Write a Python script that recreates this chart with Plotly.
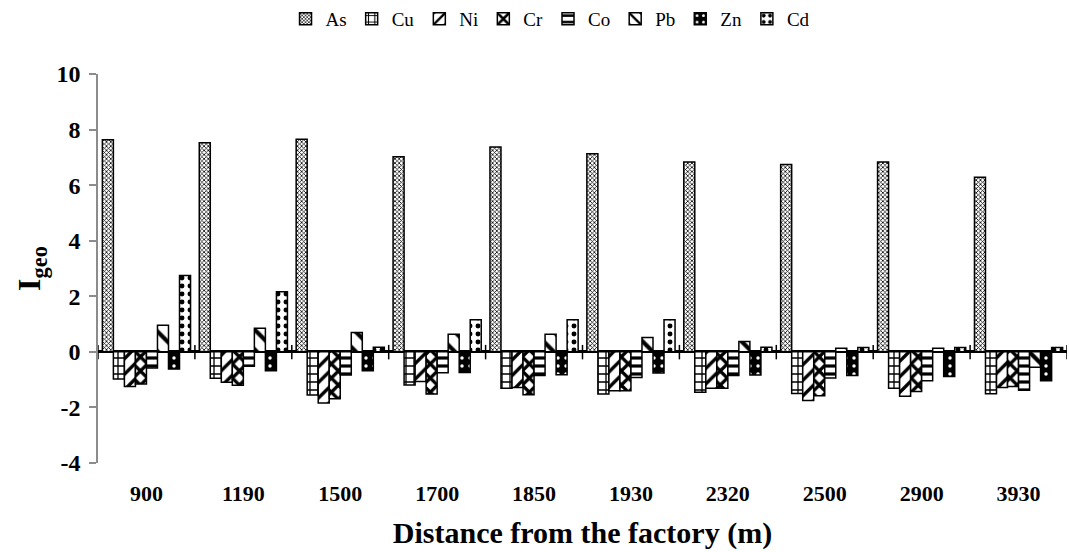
import plotly.graph_objects as go

# Distance of each sampling site from the factory (m)
distances = ["900", "1190", "1500", "1700", "1850", "1930", "2320", "2500", "2900", "3930"]

# Geo-accumulation index (Igeo) per element at each site
As = [7.63, 7.53, 7.65, 7.02, 7.37, 7.13, 6.83, 6.74, 6.83, 6.28]
Cu = [-0.98, -0.95, -1.55, -1.19, -1.31, -1.52, -1.45, -1.50, -1.31, -1.51]
Ni = [-1.25, -1.09, -1.84, -1.07, -1.28, -1.40, -1.31, -1.75, -1.60, -1.28]
Cr = [-1.16, -1.20, -1.69, -1.52, -1.54, -1.40, -1.31, -1.58, -1.43, -1.25]
Co = [-0.58, -0.52, -0.83, -0.75, -0.85, -0.92, -0.85, -0.94, -1.04, -1.38]
Pb = [0.96, 0.85, 0.70, 0.63, 0.63, 0.52, 0.37, 0.13, 0.13, -0.55]
Zn = [-0.62, -0.68, -0.68, -0.74, -0.82, -0.76, -0.83, -0.85, -0.89, -1.04]
Cd = [2.75, 2.16, 0.17, 1.16, 1.16, 1.16, 0.17, 0.16, 0.16, 0.16]

# Y-axis ticks, labelled with a plain hyphen for negatives
y_ticks = [-4, -2, 0, 2, 4, 6, 8, 10]
y_tick_labels = ["-4", "-2", "0", "2", "4", "6", "8", "10"]

series = [
    ("As", As, dict(shape="x", size=3, solidity=0.45, fgcolor="black", bgcolor="white")),
    ("Cu", Cu, dict(shape="+", size=8, solidity=0.3, fgcolor="black", bgcolor="white")),
    ("Ni", Ni, dict(shape="/", size=11, solidity=0.3, fgcolor="black", bgcolor="white")),
    ("Cr", Cr, dict(shape="x", size=10, solidity=0.55, fgcolor="black", bgcolor="white")),
    ("Co", Co, dict(shape="-", size=8, solidity=0.4, fgcolor="black", bgcolor="white")),
    ("Pb", Pb, dict(shape="\\", size=14, solidity=0.3, fgcolor="black", bgcolor="white")),
    ("Zn", Zn, dict(shape=".", size=8, solidity=0.15, fgcolor="white", bgcolor="black")),
    ("Cd", Cd, dict(shape=".", size=8, solidity=0.3, fgcolor="black", bgcolor="white")),
]

FONT = "Liberation Serif"

fig = go.Figure()
for name, vals, pat in series:
    fig.add_trace(go.Bar(
        name=name, x=distances, y=vals,
        marker=dict(color="white", line=dict(color="black", width=1.5),
                    pattern=dict(fillmode="replace", **pat)),
    ))

# Category-boundary tick marks crossing the zero line
shapes = []
for i in range(len(distances) + 1):
    shapes.append(dict(type="line", xref="x", yref="y",
                       x0=i - 0.5, x1=i - 0.5, y0=-0.27, y1=0.25,
                       line=dict(color="black", width=1.5)))

fig.update_layout(
    width=1069, height=552,
    margin=dict(l=98, r=2, t=74, b=89),
    paper_bgcolor="white", plot_bgcolor="white",
    barmode="group", bargap=0.09, bargroupgap=0,
    font=dict(family=FONT, color="black"),
    shapes=shapes,
    legend=dict(orientation="h", x=0.515, xref="container", xanchor="center",
                y=1.0, yref="container", yanchor="top",
                font=dict(family=FONT, size=19, color="black"),
                itemwidth=30, tracegroupgap=0),
    xaxis=dict(showline=False, ticks="", showgrid=False, zeroline=False,
               tickfont=dict(family=FONT, size=22, weight="bold"),
               ticklabelstandoff=15,
               range=[-0.5, len(distances) - 0.5],
               title=dict(text="Distance from the factory (m)",
                          font=dict(family=FONT, size=30, weight="bold"),
                          standoff=16)),
    yaxis=dict(range=[-4, 10], tickvals=y_ticks, ticktext=y_tick_labels,
               showgrid=False,
               showline=True, linecolor="#8c8c8c", linewidth=1.5,
               ticks="outside", ticklen=7, tickcolor="#8c8c8c", tickwidth=1.5,
               zeroline=True, zerolinecolor="black", zerolinewidth=2.5,
               tickfont=dict(family=FONT, size=24, weight="bold"),
               ticklabelstandoff=4,
               title=dict(text="I<sub>geo</sub>",
                          font=dict(family=FONT, size=32, weight="bold"),
                          standoff=6)),
)

fig.write_html("out.html")
